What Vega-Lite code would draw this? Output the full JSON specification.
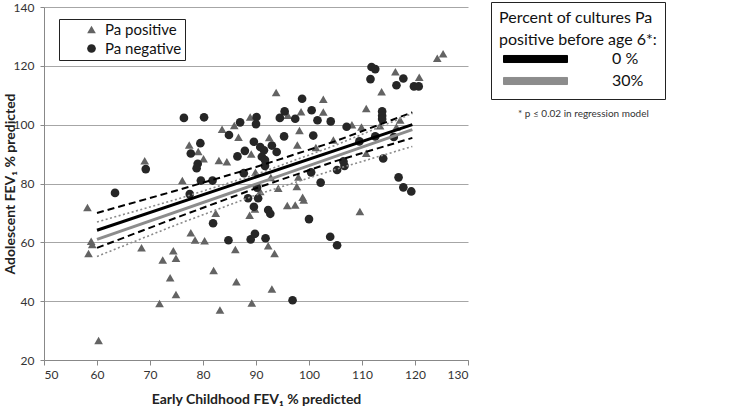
{
  "$schema": "https://vega.github.io/schema/vega-lite/v6.json",
  "width": 424,
  "height": 353,
  "autosize": {"type": "none"},
  "padding": {"left": 44, "top": 7, "right": 269, "bottom": 50},
  "background": "white",
  "config": {"view": {"stroke": null}, "font": "Lato"},
  "title": {"text": "* p ≤ 0.02 in regression model", "orient": "top", "anchor": "start", "frame": "group", "offset": 0, "dx": 474, "dy": 118, "fontSize": 10, "fontWeight": "normal", "color": "#333", "font": "Lato"},
  "datasets": {
    "points": [
      {"x": 58.2, "y": 71.8, "status": "Pa positive"},
      {"x": 58.9, "y": 60.4, "status": "Pa positive"},
      {"x": 59.1, "y": 59.3, "status": "Pa positive"},
      {"x": 58.4, "y": 56.2, "status": "Pa positive"},
      {"x": 60.3, "y": 26.6, "status": "Pa positive"},
      {"x": 68.4, "y": 58.2, "status": "Pa positive"},
      {"x": 72.4, "y": 54.0, "status": "Pa positive"},
      {"x": 73.8, "y": 48.0, "status": "Pa positive"},
      {"x": 74.4, "y": 57.1, "status": "Pa positive"},
      {"x": 74.9, "y": 54.6, "status": "Pa positive"},
      {"x": 74.9, "y": 42.3, "status": "Pa positive"},
      {"x": 71.8, "y": 39.2, "status": "Pa positive"},
      {"x": 77.7, "y": 63.3, "status": "Pa positive"},
      {"x": 78.5, "y": 60.8, "status": "Pa positive"},
      {"x": 80.3, "y": 60.5, "status": "Pa positive"},
      {"x": 82.4, "y": 69.9, "status": "Pa positive"},
      {"x": 82.0, "y": 50.4, "status": "Pa positive"},
      {"x": 86.1, "y": 57.6, "status": "Pa positive"},
      {"x": 86.3, "y": 46.6, "status": "Pa positive"},
      {"x": 83.2, "y": 37.0, "status": "Pa positive"},
      {"x": 88.8, "y": 69.2, "status": "Pa positive"},
      {"x": 89.8, "y": 71.3, "status": "Pa positive"},
      {"x": 89.2, "y": 39.4, "status": "Pa positive"},
      {"x": 92.3, "y": 58.8, "status": "Pa positive"},
      {"x": 93.5, "y": 56.2, "status": "Pa positive"},
      {"x": 93.0, "y": 44.1, "status": "Pa positive"},
      {"x": 95.9, "y": 72.5, "status": "Pa positive"},
      {"x": 97.4, "y": 72.7, "status": "Pa positive"},
      {"x": 99.0, "y": 74.4, "status": "Pa positive"},
      {"x": 109.6, "y": 70.5, "status": "Pa positive"},
      {"x": 69.0, "y": 87.7, "status": "Pa positive"},
      {"x": 76.1, "y": 81.0, "status": "Pa positive"},
      {"x": 77.4, "y": 93.1, "status": "Pa positive"},
      {"x": 79.1, "y": 90.9, "status": "Pa positive"},
      {"x": 80.1, "y": 88.4, "status": "Pa positive"},
      {"x": 83.0, "y": 87.8, "status": "Pa positive"},
      {"x": 84.5, "y": 87.4, "status": "Pa positive"},
      {"x": 83.6, "y": 98.4, "status": "Pa positive"},
      {"x": 85.9, "y": 99.7, "status": "Pa positive"},
      {"x": 86.7, "y": 95.7, "status": "Pa positive"},
      {"x": 88.9, "y": 102.6, "status": "Pa positive"},
      {"x": 93.8, "y": 110.9, "status": "Pa positive"},
      {"x": 89.1, "y": 90.0, "status": "Pa positive"},
      {"x": 92.5, "y": 95.6, "status": "Pa positive"},
      {"x": 96.0, "y": 103.2, "status": "Pa positive"},
      {"x": 98.5, "y": 104.4, "status": "Pa positive"},
      {"x": 98.2, "y": 98.0, "status": "Pa positive"},
      {"x": 97.8, "y": 93.1, "status": "Pa positive"},
      {"x": 89.9, "y": 83.8, "status": "Pa positive"},
      {"x": 92.8, "y": 82.0, "status": "Pa positive"},
      {"x": 94.2, "y": 78.4, "status": "Pa positive"},
      {"x": 98.0, "y": 82.2, "status": "Pa positive"},
      {"x": 97.7, "y": 79.0, "status": "Pa positive"},
      {"x": 98.8, "y": 75.3, "status": "Pa positive"},
      {"x": 90.8, "y": 77.3, "status": "Pa positive"},
      {"x": 102.7, "y": 108.6, "status": "Pa positive"},
      {"x": 102.7, "y": 104.3, "status": "Pa positive"},
      {"x": 101.3, "y": 92.2, "status": "Pa positive"},
      {"x": 104.6, "y": 94.8, "status": "Pa positive"},
      {"x": 108.1, "y": 100.0, "status": "Pa positive"},
      {"x": 109.9, "y": 99.2, "status": "Pa positive"},
      {"x": 110.8, "y": 105.5, "status": "Pa positive"},
      {"x": 113.7, "y": 111.2, "status": "Pa positive"},
      {"x": 113.4, "y": 99.6, "status": "Pa positive"},
      {"x": 116.5, "y": 99.2, "status": "Pa positive"},
      {"x": 117.2, "y": 101.6, "status": "Pa positive"},
      {"x": 110.8, "y": 90.3, "status": "Pa positive"},
      {"x": 116.3, "y": 118.0, "status": "Pa positive"},
      {"x": 120.8, "y": 116.1, "status": "Pa positive"},
      {"x": 124.2, "y": 122.6, "status": "Pa positive"},
      {"x": 125.3, "y": 124.1, "status": "Pa positive"},
      {"x": 63.4, "y": 76.8, "status": "Pa negative"},
      {"x": 69.2, "y": 84.9, "status": "Pa negative"},
      {"x": 76.4, "y": 102.3, "status": "Pa negative"},
      {"x": 80.2, "y": 102.5, "status": "Pa negative"},
      {"x": 87.0, "y": 100.8, "status": "Pa negative"},
      {"x": 90.1, "y": 102.6, "status": "Pa negative"},
      {"x": 90.0, "y": 100.2, "status": "Pa negative"},
      {"x": 84.9, "y": 96.5, "status": "Pa negative"},
      {"x": 79.5, "y": 93.7, "status": "Pa negative"},
      {"x": 77.7, "y": 90.2, "status": "Pa negative"},
      {"x": 79.0, "y": 86.7, "status": "Pa negative"},
      {"x": 78.8, "y": 85.2, "status": "Pa negative"},
      {"x": 79.6, "y": 81.0, "status": "Pa negative"},
      {"x": 81.8, "y": 81.0, "status": "Pa negative"},
      {"x": 86.5, "y": 89.2, "status": "Pa negative"},
      {"x": 87.9, "y": 91.1, "status": "Pa negative"},
      {"x": 89.6, "y": 94.2, "status": "Pa negative"},
      {"x": 90.8, "y": 92.4, "status": "Pa negative"},
      {"x": 91.5, "y": 91.3, "status": "Pa negative"},
      {"x": 91.1, "y": 89.1, "status": "Pa negative"},
      {"x": 91.7, "y": 88.0, "status": "Pa negative"},
      {"x": 91.7, "y": 86.0, "status": "Pa negative"},
      {"x": 93.0, "y": 92.9, "status": "Pa negative"},
      {"x": 93.9, "y": 90.7, "status": "Pa negative"},
      {"x": 95.3, "y": 96.0, "status": "Pa negative"},
      {"x": 95.4, "y": 104.5, "status": "Pa negative"},
      {"x": 94.5, "y": 102.3, "status": "Pa negative"},
      {"x": 97.4, "y": 102.0, "status": "Pa negative"},
      {"x": 98.7, "y": 108.8, "status": "Pa negative"},
      {"x": 100.5, "y": 104.9, "status": "Pa negative"},
      {"x": 101.6, "y": 101.5, "status": "Pa negative"},
      {"x": 100.8, "y": 96.3, "status": "Pa negative"},
      {"x": 87.7, "y": 83.5, "status": "Pa negative"},
      {"x": 90.2, "y": 78.6, "status": "Pa negative"},
      {"x": 88.5, "y": 75.0, "status": "Pa negative"},
      {"x": 90.4, "y": 75.0, "status": "Pa negative"},
      {"x": 100.4, "y": 83.8, "status": "Pa negative"},
      {"x": 102.2, "y": 80.3, "status": "Pa negative"},
      {"x": 92.3, "y": 71.0, "status": "Pa negative"},
      {"x": 92.7, "y": 69.7, "status": "Pa negative"},
      {"x": 89.6, "y": 72.1, "status": "Pa negative"},
      {"x": 81.9, "y": 66.5, "status": "Pa negative"},
      {"x": 84.8, "y": 60.7, "status": "Pa negative"},
      {"x": 89.0, "y": 61.0, "status": "Pa negative"},
      {"x": 89.8, "y": 62.9, "status": "Pa negative"},
      {"x": 91.8, "y": 61.4, "status": "Pa negative"},
      {"x": 100.0, "y": 67.9, "status": "Pa negative"},
      {"x": 96.9, "y": 40.3, "status": "Pa negative"},
      {"x": 104.0, "y": 61.9, "status": "Pa negative"},
      {"x": 105.3, "y": 59.0, "status": "Pa negative"},
      {"x": 111.8, "y": 119.6, "status": "Pa negative"},
      {"x": 112.5, "y": 118.9, "status": "Pa negative"},
      {"x": 111.6, "y": 115.5, "status": "Pa negative"},
      {"x": 117.8, "y": 115.7, "status": "Pa negative"},
      {"x": 116.5, "y": 113.4, "status": "Pa negative"},
      {"x": 119.8, "y": 113.0, "status": "Pa negative"},
      {"x": 120.7, "y": 113.0, "status": "Pa negative"},
      {"x": 113.8, "y": 104.5, "status": "Pa negative"},
      {"x": 113.8, "y": 103.0, "status": "Pa negative"},
      {"x": 113.8, "y": 101.9, "status": "Pa negative"},
      {"x": 104.1, "y": 101.1, "status": "Pa negative"},
      {"x": 107.1, "y": 99.3, "status": "Pa negative"},
      {"x": 109.5, "y": 94.3, "status": "Pa negative"},
      {"x": 112.5, "y": 96.0, "status": "Pa negative"},
      {"x": 116.0, "y": 95.8, "status": "Pa negative"},
      {"x": 114.0, "y": 88.5, "status": "Pa negative"},
      {"x": 106.5, "y": 87.5, "status": "Pa negative"},
      {"x": 106.7, "y": 86.0, "status": "Pa negative"},
      {"x": 105.3, "y": 84.6, "status": "Pa negative"},
      {"x": 116.9, "y": 82.1, "status": "Pa negative"},
      {"x": 117.8, "y": 78.7, "status": "Pa negative"},
      {"x": 119.3, "y": 77.3, "status": "Pa negative"},
      {"x": 77.5, "y": 76.4, "status": "Pa negative"}
    ],
    "fits": [
      {"x": 60, "y": 64.1, "pct": "0 %"},
      {"x": 119.5, "y": 100.0, "pct": "0 %"},
      {"x": 60, "y": 61.0, "pct": "30%"},
      {"x": 119.5, "y": 98.3, "pct": "30%"}
    ],
    "ciBlack": [
      {"x": 60, "y": 70.0, "band": "upper"},
      {"x": 75, "y": 77.6, "band": "upper"},
      {"x": 90, "y": 85.6, "band": "upper"},
      {"x": 105, "y": 94.4, "band": "upper"},
      {"x": 119.5, "y": 104.2, "band": "upper"},
      {"x": 60, "y": 58.1, "band": "lower"},
      {"x": 75, "y": 68.4, "band": "lower"},
      {"x": 90, "y": 78.4, "band": "lower"},
      {"x": 105, "y": 87.6, "band": "lower"},
      {"x": 119.5, "y": 95.5, "band": "lower"}
    ],
    "ciGray": [
      {"x": 60, "y": 66.9, "band": "upper"},
      {"x": 75, "y": 74.6, "band": "upper"},
      {"x": 90, "y": 83.1, "band": "upper"},
      {"x": 105, "y": 93.0, "band": "upper"},
      {"x": 119.5, "y": 103.8, "band": "upper"},
      {"x": 60, "y": 55.2, "band": "lower"},
      {"x": 75, "y": 66.0, "band": "lower"},
      {"x": 90, "y": 76.1, "band": "lower"},
      {"x": 105, "y": 84.8, "band": "lower"},
      {"x": 119.5, "y": 92.6, "band": "lower"}
    ]
  },
  "encoding": {
    "x": {
      "field": "x", "type": "quantitative",
      "scale": {"domain": [50, 130], "nice": false, "zero": false},
      "axis": {
        "title": "Early Childhood FEV₁ % predicted",
        "values": [50, 60, 70, 80, 90, 100, 110, 120, 130],
        "grid": false, "domainColor": "#888888", "tickColor": "#888888", "tickSize": 5,
        "labelFontSize": 12, "labelColor": "#333333", "labelPadding": 4, "labelFont": "Lato",
        "titleFontSize": 14, "titleFontWeight": "bold", "titleColor": "#222222", "titleFont": "Lato", "titlePadding": 12
      }
    },
    "y": {
      "field": "y", "type": "quantitative",
      "scale": {"domain": [20, 140], "nice": false, "zero": false},
      "axis": {
        "title": "Adolescent FEV₁ % predicted",
        "values": [20, 40, 60, 80, 100, 120, 140],
        "grid": true, "gridColor": "#a6a6a6", "gridWidth": 1,
        "domainColor": "#888888", "tickColor": "#888888", "tickSize": 4,
        "labelFontSize": 12, "labelColor": "#333333", "labelPadding": 6, "labelFont": "Lato",
        "titleFontSize": 14, "titleFontWeight": "bold", "titleColor": "#222222", "titleFont": "Lato",
        "titleX": -30, "titleBaseline": "alphabetic", "titleAngle": -90
      }
    }
  },
  "layer": [
    {
      "data": {"name": "points"},
      "mark": {"type": "point", "filled": true, "opacity": 1, "size": 75, "strokeWidth": 0},
      "encoding": {
        "shape": {
          "field": "status", "type": "nominal",
          "scale": {"domain": ["Pa positive", "Pa negative"], "range": ["triangle-up", "circle"]},
          "legend": {
            "orient": "none", "legendX": 15, "legendY": 12, "title": null,
            "strokeColor": "#222222", "fillColor": "white", "padding": 3,
            "labelFontSize": 15, "labelFont": "Lato", "labelColor": "#111111",
            "symbolSize": 75, "symbolOffset": 22, "labelOffset": 6, "rowPadding": 3,
            "labelExpr": "datum.label + '\u00a0\u00a0\u00a0\u00a0\u00a0'"
          }
        },
        "color": {
          "field": "status", "type": "nominal",
          "scale": {"domain": ["Pa positive", "Pa negative"], "range": ["#636363", "#262626"]},
          "legend": {
            "orient": "none", "legendX": 15, "legendY": 12, "title": null,
            "strokeColor": "#222222", "fillColor": "white", "padding": 3,
            "labelFontSize": 15, "labelFont": "Lato", "labelColor": "#111111",
            "symbolSize": 75, "symbolOffset": 22, "labelOffset": 6, "rowPadding": 3,
            "labelExpr": "datum.label + '\u00a0\u00a0\u00a0\u00a0\u00a0'"
          }
        }
      }
    },
    {
      "data": {"name": "ciBlack"},
      "mark": {"type": "line", "color": "#000000", "strokeWidth": 2, "strokeDash": [7, 4]},
      "encoding": {"detail": {"field": "band", "type": "nominal"}}
    },
    {
      "data": {"name": "ciGray"},
      "mark": {"type": "line", "color": "#8a8a8a", "strokeWidth": 1.6, "strokeDash": [2, 2.5]},
      "encoding": {"detail": {"field": "band", "type": "nominal"}}
    },
    {
      "data": {"name": "fits"},
      "mark": {"type": "line", "strokeWidth": 3},
      "encoding": {
        "stroke": {
          "field": "pct", "type": "nominal",
          "scale": {"domain": ["0 %", "30%"], "range": ["#000000", "#8c8c8c"]},
          "legend": {
            "orient": "none", "legendX": 447, "legendY": -5,
            "title": ["Percent of cultures Pa", "positive before age 6*:\u00a0\u00a0\u00a0\u00a0\u00a0\u00a0\u00a0\u00a0\u00a0\u00a0\u00a0\u00a0\u00a0"],
            "titleFontSize": 16, "titleFontWeight": "normal", "titleFont": "Lato", "titleColor": "#111111",
            "titleLineHeight": 22, "titlePadding": 1,
            "strokeColor": "#222222", "fillColor": "white", "padding": 8,
            "labelFontSize": 16, "labelFont": "Lato", "labelColor": "#111111",
            "symbolType": "M-1,-0.11H1V0.11H-1Z", "symbolSize": 4096, "symbolOffset": 4,
            "symbolStrokeColor": "#444444", "symbolStrokeWidth": 1,
            "labelOffset": 44, "clipHeight": 20, "rowPadding": 2,
            "encode": {"symbols": {"update": {"fill": {"scale": "stroke", "field": "value"}, "fillOpacity": {"value": 1}}}}
          }
        }
      }
    }
  ]
}
